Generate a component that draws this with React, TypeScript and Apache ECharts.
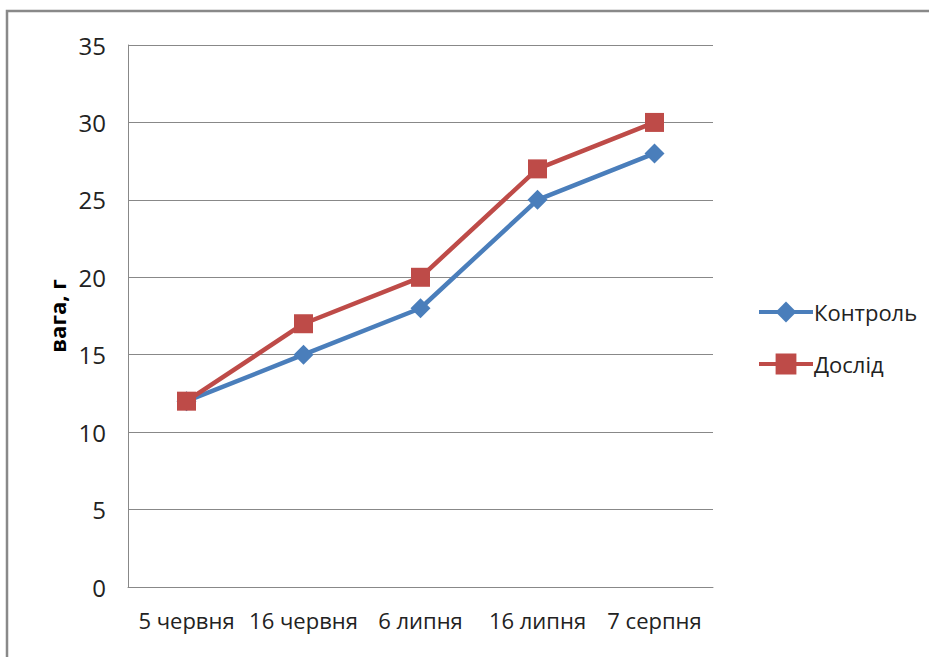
import React, { useEffect, useRef } from "react";
import * as echarts from "echarts";

const categories = ["5 червня", "16 червня", "6 липня", "16 липня", "7 серпня"];
const kontrol = [12, 15, 18, 25, 28];
const doslid = [12, 17, 20, 27, 30];
const yMin = 0;
const yMax = 35;
const yInterval = 5;

const FONT = "'Open Sans', sans-serif";

export default function App() {
  const ref = useRef<HTMLDivElement>(null);
  useEffect(() => {
    if (!ref.current) return;
    const chart = echarts.init(ref.current, null, { renderer: "svg" });
    chart.setOption({
      animation: false,
      backgroundColor: "#ffffff",
      textStyle: { fontFamily: FONT },
      graphic: [
        {
          type: "rect",
          shape: { x: 7, y: 11, width: 1000, height: 800 },
          style: { fill: "none", stroke: "#898989", lineWidth: 2.5 },
          silent: true,
        },
      ],
      grid: { left: 128, right: 216, top: 45, bottom: 70, containLabel: false },
      legend: {
        orient: "vertical",
        left: 752,
        top: 296,
        itemWidth: 54,
        itemHeight: 26,
        itemGap: 30,
        lineStyle: { width: 4 },
        textStyle: { fontSize: 22, color: "#222", fontFamily: FONT, padding: [0, 0, 0, -4] },
        data: ["Контроль", "Дослід"],
      },
      xAxis: {
        type: "category",
        data: categories,
        boundaryGap: true,
        axisLine: { lineStyle: { color: "#888", width: 1 } },
        axisTick: { show: false },
        axisLabel: { fontSize: 22, color: "#222", margin: 22, fontFamily: FONT, interval: 0 },
      },
      yAxis: {
        type: "value",
        min: yMin,
        max: yMax,
        interval: yInterval,
        name: "вага, г",
        nameLocation: "middle",
        nameGap: 56,
        nameRotate: 90,
        nameTextStyle: { fontSize: 22, fontWeight: "bold", color: "#000", fontFamily: FONT },
        axisLine: { show: true, lineStyle: { color: "#888", width: 1 } },
        axisTick: { show: false },
        axisLabel: { fontSize: 24, color: "#222", margin: 22, fontFamily: FONT },
        splitLine: { lineStyle: { color: "#888", width: 1 } },
      },
      series: [
        {
          name: "Контроль",
          type: "line",
          data: kontrol,
          symbol: "diamond",
          symbolSize: 20,
          lineStyle: { color: "#4A7EBB", width: 4.5 },
          itemStyle: { color: "#4A7EBB" },
        },
        {
          name: "Дослід",
          type: "line",
          data: doslid,
          symbol: "rect",
          symbolSize: 19,
          lineStyle: { color: "#BE4B48", width: 4.5 },
          itemStyle: { color: "#BE4B48" },
        },
      ],
    });
    return () => chart.dispose();
  }, []);
  return (
    <div
      ref={ref}
      style={{ position: "absolute", left: 0, top: 0, width: 929, height: 657 }}
    />
  );
}
